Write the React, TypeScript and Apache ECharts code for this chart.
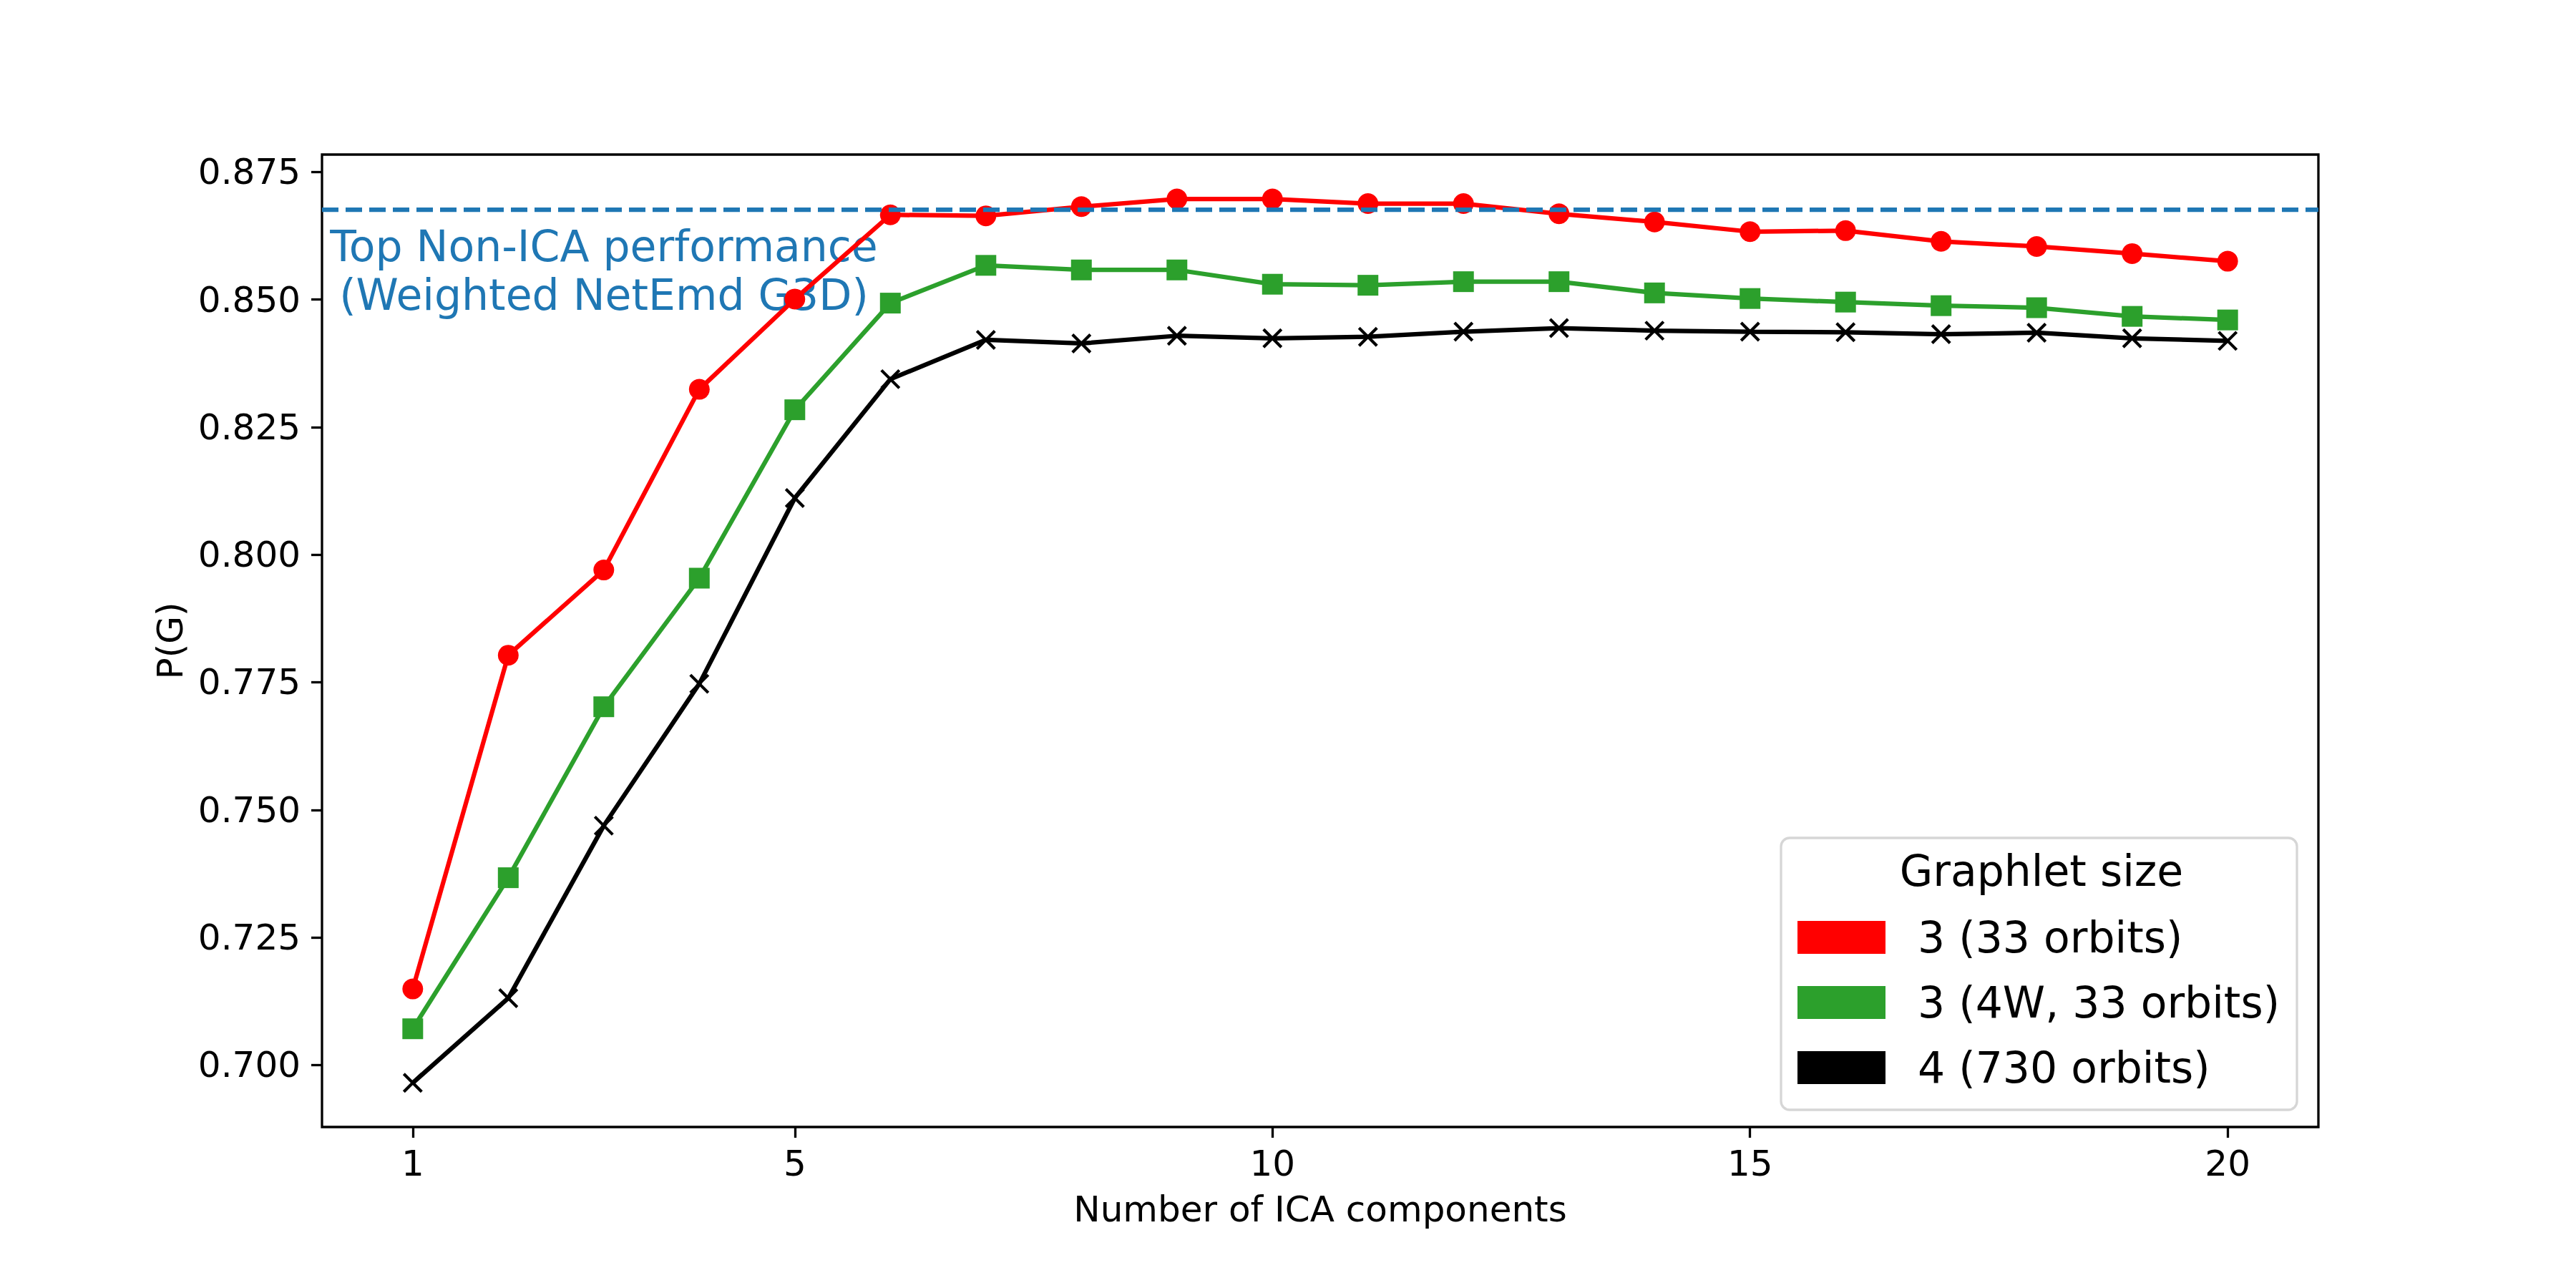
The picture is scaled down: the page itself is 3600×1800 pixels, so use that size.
import React, { useEffect, useRef } from "react";
import * as echarts from "echarts";

const components = [1, 2, 3, 4, 5, 6, 7, 8, 9, 10, 11, 12, 13, 14, 15, 16, 17, 18, 19, 20];
const graphlet3 = [0.7149, 0.7803, 0.797, 0.8324, 0.8501, 0.8666, 0.8664, 0.8682, 0.8697, 0.8697, 0.8688, 0.8688, 0.8668, 0.8652, 0.8633, 0.8635, 0.8614, 0.8604, 0.859, 0.8575];
const graphlet3w = [0.7071, 0.7367, 0.7702, 0.7954, 0.8284, 0.8493, 0.8567, 0.8558, 0.8558, 0.853, 0.8528, 0.8535, 0.8535, 0.8513, 0.8502, 0.8495, 0.8488, 0.8484, 0.8467, 0.846];
const graphlet4 = [0.6965, 0.7131, 0.7469, 0.7747, 0.8111, 0.8344, 0.8421, 0.8414, 0.8429, 0.8424, 0.8427, 0.8437, 0.8444, 0.8439, 0.8437, 0.8436, 0.8432, 0.8435, 0.8424, 0.8419];
const topNonIca = 0.8677;
const seriesNames = ["3 (33 orbits)", "3 (4W, 33 orbits)", "4 (730 orbits)"];
const xTicks = [1, 5, 10, 15, 20];
const yTicks = [0.7, 0.725, 0.75, 0.775, 0.8, 0.825, 0.85, 0.875];

const FONT = "DejaVu Sans";
const LW = 6.25;

export default function App() {
  const ref = useRef<HTMLDivElement>(null);
  useEffect(() => {
    if (!ref.current) return;
    const chart = echarts.init(ref.current, null, { renderer: "svg" });
    const pts = (arr: number[]) => components.map((x, i) => [x, arr[i]]);
    const option: any = {
      animation: false,
      backgroundColor: "#ffffff",
      textStyle: { fontFamily: FONT },
      grid: {
        left: 450,
        top: 216,
        width: 2790,
        height: 1359,
        show: true,
        borderColor: "#000000",
        borderWidth: 3.3,
        backgroundColor: "transparent",
        containLabel: false,
        outerBoundsMode: "none",
      },
      xAxis: {
        type: "value",
        min: 0.05,
        max: 20.95,
        name: "Number of ICA components",
        nameLocation: "middle",
        nameGap: 90,
        nameMoveOverlap: false,
        nameTextStyle: { fontSize: 50, color: "#000", fontFamily: FONT },
        axisLine: { show: false },
        splitLine: { show: false },
        axisTick: {
          show: true,
          customValues: xTicks,
          length: 15,
          lineStyle: { color: "#000", width: 3.3 },
        },
        axisLabel: {
          customValues: xTicks,
          fontSize: 50,
          color: "#000",
          fontFamily: FONT,
          margin: 26,
        },
      },
      yAxis: {
        type: "value",
        min: 0.68785,
        max: 0.87841,
        name: "P(G)",
        nameLocation: "middle",
        nameGap: 187,
        nameMoveOverlap: false,
        nameTextStyle: { fontSize: 50, color: "#000", fontFamily: FONT },
        axisLine: { show: false },
        splitLine: { show: false },
        axisTick: {
          show: true,
          customValues: yTicks,
          length: 15,
          lineStyle: { color: "#000", width: 3.3 },
        },
        axisLabel: {
          customValues: yTicks,
          fontSize: 50,
          color: "#000",
          fontFamily: FONT,
          margin: 30,
          formatter: (v: number) => v.toFixed(3),
        },
      },
      legend: {
        left: 2489,
        top: 1171,
        orient: "vertical",
        align: "left",
        padding: [109, 24, 29, 23],
        itemWidth: 123,
        itemHeight: 46,
        itemGap: 31,
        icon: "rect",
        backgroundColor: "rgba(255,255,255,0.8)",
        borderColor: "rgba(204,204,204,0.8)",
        borderWidth: 3.3,
        borderRadius: 12,
        itemStyle: { borderWidth: 0 },
        textStyle: {
          fontSize: 60,
          color: "#000",
          fontFamily: FONT,
          lineHeight: 46,
          padding: [0, 0, 0, 40],
        },
        data: [
          { name: seriesNames[0], itemStyle: { color: "#ff0000", borderWidth: 0 } },
          { name: seriesNames[1], itemStyle: { color: "#2ca02c", borderWidth: 0 } },
          { name: seriesNames[2], itemStyle: { color: "#000000", borderWidth: 0 } },
        ],
      },
      graphic: [
        {
          type: "text",
          x: 844,
          y: 378,
          z: 0,
          silent: true,
          style: {
            text: "Top Non-ICA performance\n(Weighted NetEmd G3D)",
            fill: "#1f77b4",
            fontSize: 60,
            fontFamily: FONT,
            align: "center",
            verticalAlign: "middle",
            lineHeight: 68,
          },
        },
        {
          type: "text",
          x: 2853,
          y: 1217,
          z: 100,
          silent: true,
          style: {
            text: "Graphlet size",
            fill: "#000",
            fontSize: 60,
            fontFamily: FONT,
            align: "center",
            verticalAlign: "middle",
          },
        },
      ],
      series: [
        {
          name: seriesNames[0],
          type: "line",
          data: pts(graphlet3),
          symbol: "circle",
          symbolSize: 29,
          z: 2,
          lineStyle: { color: "#ff0000", width: LW },
          itemStyle: { color: "#ff0000", borderWidth: 0 },
        },
        {
          name: seriesNames[1],
          type: "line",
          data: pts(graphlet3w),
          symbol: "rect",
          symbolSize: 29,
          z: 2,
          lineStyle: { color: "#2ca02c", width: LW },
          itemStyle: { color: "#2ca02c", borderWidth: 0 },
        },
        {
          name: seriesNames[2],
          type: "line",
          data: pts(graphlet4),
          symbol: "path://M0 0L10 10M10 0L0 10",
          symbolSize: 25,
          z: 2,
          lineStyle: { color: "#000000", width: LW },
          itemStyle: { color: "#000000", borderColor: "#000000", borderWidth: 4.2 },
        },
        {
          name: "topNonIca",
          type: "line",
          data: [],
          z: 3,
          markLine: {
            silent: true,
            precision: 4,
            symbol: ["none", "none"],
            label: { show: false },
            lineStyle: { color: "#1f77b4", width: LW, type: [23, 10] },
            data: [{ yAxis: topNonIca }],
          },
        },
      ],
    };
    chart.setOption(option);
    return () => chart.dispose();
  }, []);
  return (
    <div
      ref={ref}
      style={{ position: "absolute", left: 0, top: 0, width: 3600, height: 1800 }}
    />
  );
}
